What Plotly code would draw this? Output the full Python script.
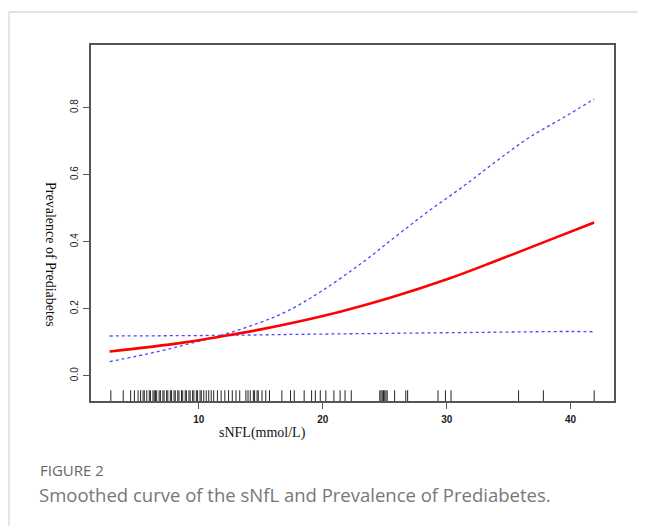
import plotly.graph_objects as go

# Smoothed fit (red) and 95% CI (blue dotted)
fit_x = [2.8, 8.6, 12.1, 14.9, 17.6, 21.4, 25.3, 30.2, 34.0, 37.8, 41.9]
fit_y = [0.072, 0.098, 0.119, 0.1375, 0.158, 0.191, 0.231, 0.290, 0.343, 0.398, 0.457]

upper_x = [2.8, 6.7, 9.4, 12.1, 14.9, 17.1, 19.8, 23.1, 25.8, 28.5, 31.3, 34.0, 36.7, 39.5, 41.9]
upper_y = [0.042, 0.072, 0.097, 0.124, 0.158, 0.192, 0.250, 0.335, 0.413, 0.490, 0.564, 0.640, 0.712, 0.772, 0.826]

lower_x = [2.8, 12.1, 18.2, 25.5, 33.2, 40.0, 41.9]
lower_y = [0.1185, 0.1205, 0.1235, 0.1265, 0.1295, 0.132, 0.131]

# Observed sNfL values shown as a rug
rug_values = [2.9, 3.9, 4.5, 4.8, 5.1, 5.3, 5.5, 5.6, 5.8, 6.0, 6.1, 6.3, 6.4, 6.5,
              6.6, 6.8, 6.9, 7.1, 7.2, 7.4, 7.5, 7.7, 7.8, 8.0, 8.1, 8.3, 8.4, 8.6,
              8.7, 8.9, 9.0, 9.2, 9.3, 9.5, 9.6, 9.8, 9.9, 10.1, 10.2, 10.4, 10.6,
              10.8, 11.0, 11.2, 11.5, 11.8, 12.1, 12.4, 12.7, 13.0, 13.3, 13.8, 13.97,
              14.15, 14.4, 14.5, 14.7, 14.8, 15.1, 15.4, 15.7, 16.7, 17.4, 17.7, 18.5,
              19.1, 19.4, 19.8, 20.25, 20.9, 21.4, 21.8, 22.3, 24.6, 24.7, 24.8, 24.9,
              25.0, 25.1, 25.2, 25.8, 26.7, 26.85, 29.3, 29.9, 30.35, 35.8, 37.8, 41.9]

x_ticks = [10, 20, 30, 40]
y_ticks = [0.0, 0.2, 0.4, 0.6, 0.8]
y_tick_text = ["0.0", "0.2", "0.4", "0.6", "0.8"]

X_RANGE = [1.3, 43.5]
Y_RANGE = [-0.0755, 0.987]
RUG_LEN = 0.032

# page body has an 8px margin; plot area should sit at screen x 91..614, y 45..401
OFF = 8
PL, PT, PW, PH = 91, 45, 523, 356

def px(xs):
    return (xs - PL) / PW

def py(ys):
    return (PT + PH - ys) / PH

fig = go.Figure()

# rug
rx, ry = [], []
for v in rug_values:
    rx += [v, v, None]
    ry += [Y_RANGE[0], Y_RANGE[0] + RUG_LEN, None]
fig.add_trace(go.Scatter(x=rx, y=ry, mode="lines",
                         line=dict(color="#222222", width=1), hoverinfo="skip"))

fig.add_trace(go.Scatter(x=upper_x, y=upper_y, mode="lines", line_shape="spline",
                         line=dict(color="rgba(40,40,255,0.85)", width=1.3, dash="dot")))
fig.add_trace(go.Scatter(x=lower_x, y=lower_y, mode="lines", line_shape="spline",
                         line=dict(color="rgba(40,40,255,0.85)", width=1.3, dash="dot")))
fig.add_trace(go.Scatter(x=fit_x, y=fit_y, mode="lines", line_shape="spline",
                         line=dict(color="#ff0000", width=2.6)))

axis_common = dict(showgrid=False, zeroline=False, showline=True, mirror=True,
                   linecolor="#555555", linewidth=1.5, ticks="outside",
                   tickcolor="#555555", ticklen=6, tickwidth=1.2)

fig.update_xaxes(range=X_RANGE, tickvals=x_ticks, ticktext=[str(t) for t in x_ticks],
                 tickfont=dict(family="Liberation Sans", size=10, color="#1a1a1a", weight="bold"),
                 ticklabelstandoff=2, **axis_common)
fig.update_yaxes(range=Y_RANGE, tickvals=y_ticks, ticktext=y_tick_text, tickangle=-90,
                 tickfont=dict(family="Liberation Sans", size=10, color="#1a1a1a"),
                 ticklabelstandoff=1, **axis_common)

fig.update_layout(
    width=646, height=526,
    margin=dict(l=PL - OFF, r=646 - (PL + PW - OFF), t=PT - OFF, b=526 - (PT + PH - OFF)),
    paper_bgcolor="white", plot_bgcolor="white",
    showlegend=False,
)

# axis titles
fig.add_annotation(text="sNFL(mmol/L)", xref="paper", yref="paper",
                   x=px(262), y=py(433), xanchor="center", yanchor="middle",
                   showarrow=False,
                   font=dict(family="Liberation Serif", size=14, color="#111111"))
fig.add_annotation(text="Prevalence of Prediabetes", xref="paper", yref="paper",
                   x=px(50), y=py(254), xanchor="center", yanchor="middle",
                   textangle=90, showarrow=False,
                   font=dict(family="Liberation Serif", size=14, color="#111111"))

# caption
fig.add_annotation(text="FIGURE 2", xref="paper", yref="paper",
                   x=px(38), y=py(470), xanchor="left", yanchor="middle",
                   showarrow=False,
                   font=dict(family="Open Sans", size=15, color="#666666"))
fig.add_annotation(text="Smoothed curve of the sNfL and Prevalence of Prediabetes.",
                   xref="paper", yref="paper",
                   x=px(37), y=py(494), xanchor="left", yanchor="middle",
                   showarrow=False,
                   font=dict(family="Open Sans", size=18.5, color="#777777"))

# card border
fig.add_shape(type="line", xref="paper", yref="paper",
              x0=px(9), x1=px(660), y0=py(12), y1=py(12),
              line=dict(color="#e2e2e2", width=2))
fig.add_shape(type="line", xref="paper", yref="paper",
              x0=px(9), x1=px(9), y0=py(12), y1=py(540),
              line=dict(color="#cccccc", width=1))

fig.write_html("out.html")
